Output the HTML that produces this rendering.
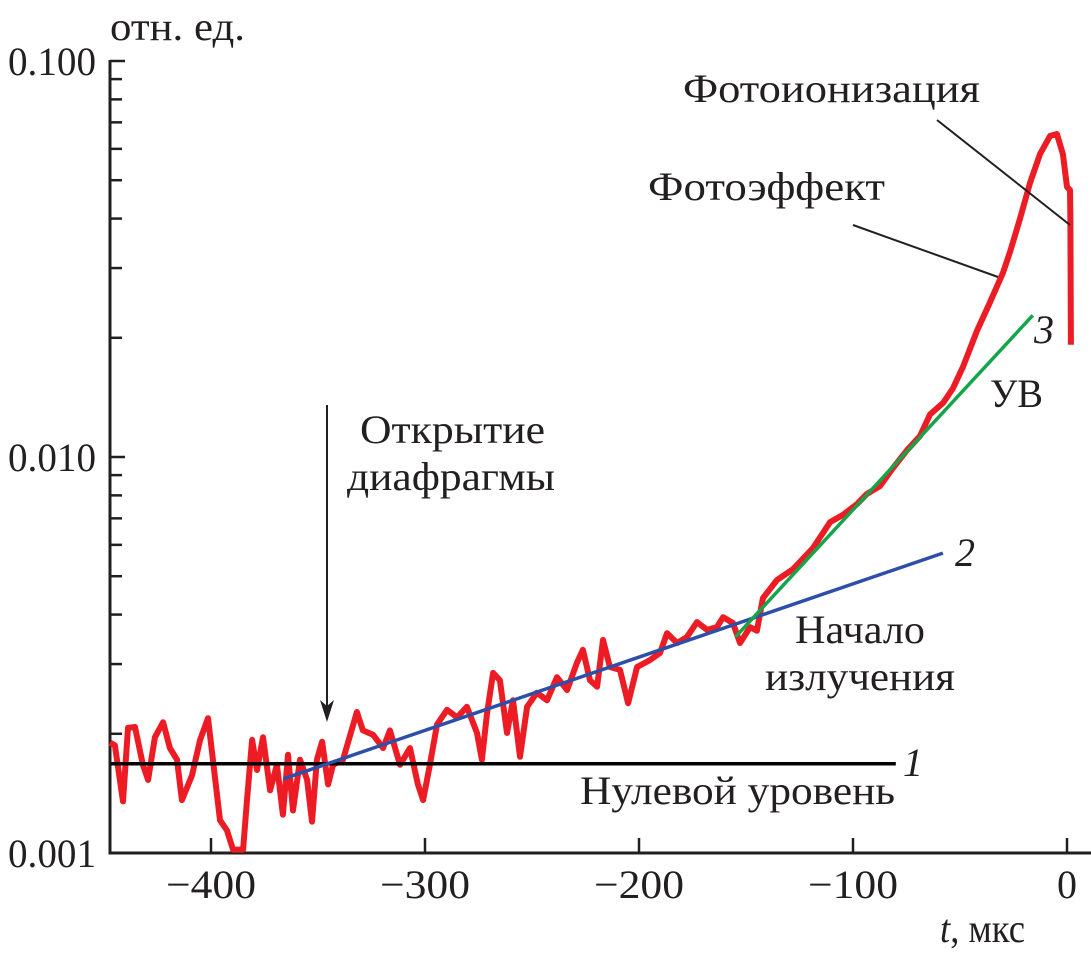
<!DOCTYPE html>
<html><head><meta charset="utf-8"><style>
html,body{margin:0;padding:0;background:#fff;}
text{font-family:"Liberation Serif","Tinos","Times New Roman","DejaVu Serif",serif;}
</style></head><body>
<svg id="chart" width="1091" height="952" viewBox="0 0 1091 952" xmlns="http://www.w3.org/2000/svg"></svg>
<script>
const redT=[-447.2,-444.9,-441.1,-438.8,-435.5,-431.8,-429.4,-426.2,-422.4,-419.2,-415.9,-413.6,-408.9,-405.1,-401.4,-399.1,-395.8,-392.5,-389.7,-385.0,-383.2,-380.8,-378.5,-375.7,-372.4,-369.2,-366.4,-364.0,-361.7,-358.4,-355.1,-352.8,-350.5,-348.1,-345.3,-343.0,-338.3,-331.8,-329.0,-324.3,-319.6,-316.4,-311.7,-307.0,-303.3,-300.9,-297.7,-294.4,-289.7,-285.0,-280.4,-275.7,-273.4,-271.0,-268.2,-265.0,-261.7,-258.9,-255.6,-252.3,-247.7,-243.0,-238.3,-233.6,-229.0,-226.2,-222.9,-219.6,-216.8,-213.6,-208.9,-205.1,-200.9,-194.9,-190.2,-186.9,-182.2,-177.6,-172.9,-168.2,-163.6,-160.7,-156.1,-152.8,-148.1,-144.9,-142.1,-135.5,-128.0,-124.8,-118.7,-110.7,-104.7,-98.1,-93.5,-87.4,-81.3,-74.8,-68.7,-64.0,-57.9,-53.3,-48.6,-42.1,-36.0,-29.9,-26.6,-22.0,-17.3,-12.6,-7.9,-4.7,-1.9,0,1.4,1.6,1.8];
const redV=[1.90,1.87,1.35,2.07,2.08,1.67,1.53,1.96,2.14,1.84,1.72,1.36,1.57,1.93,2.19,1.72,1.21,1.14,1.02,1.02,1.36,1.93,1.62,1.96,1.44,1.67,1.25,1.77,1.28,1.72,1.53,1.20,1.72,1.91,1.49,1.67,1.72,2.27,2.04,1.99,1.84,2.04,1.67,1.84,1.49,1.36,1.67,2.11,2.30,2.20,2.34,2.01,1.72,2.26,2.85,2.73,2.01,2.43,1.75,2.34,2.54,2.43,2.78,2.58,3.02,3.26,2.73,2.63,3.45,2.95,2.90,2.39,2.95,3.07,3.20,3.59,3.39,3.51,3.83,3.66,3.72,3.94,3.81,3.39,3.72,3.64,4.40,4.89,5.21,5.43,5.89,6.85,7.14,7.61,8.07,8.45,9.38,10.4,11.3,12.8,13.7,14.9,16.9,20.8,24.6,29.2,33.0,39.9,49.2,58.2,64.7,65.4,58.2,48.1,47.2,40.0,19.2];
const zeroT=[-447,-80];
const zeroV=[1.68,1.68];
const blueT=[-366,-58];
const blueV=[1.54,5.72];
const greenT=[-155,-16];
const greenV=[3.51,22.8];
const xTicks=[-400,-300,-200,-100,0];
const xTickLabels=["\u2212400","\u2212300","\u2212200","\u2212100","0"];
const yTicks=[1,10,100];
const yTickLabels=["0.001","0.010","0.100"];

const X0=1067,XS=2.14,Y0=853,YD=396;
const xs=t=>X0+t*XS;
const ys=v=>Y0-Math.log10(v)*YD; // v in units of 1e-3
const svg=document.getElementById('chart');
const NS='http://www.w3.org/2000/svg';
function mk(tag,attrs,parent){const e=document.createElementNS(NS,tag);for(const k in attrs)e.setAttribute(k,attrs[k]);(parent||svg).appendChild(e);return e;}
function txt(s,x,y,size,anchor,style,w){const e=mk('text',{x:x,y:y,'font-size':size,'text-anchor':anchor||'start','fill':'#231f20'});if(style)e.setAttribute('font-style',style);if(w){e.setAttribute('textLength',w);e.setAttribute('lengthAdjust','spacingAndGlyphs');}e.textContent=s;return e;}
function path(T,V,color,w,name){
  const d=T.map((t,i)=>(i?'L':'M')+xs(t).toFixed(1)+','+ys(V[i]).toFixed(1)).join('');
  const p=mk('path',{d:d,fill:'none',stroke:color,'stroke-width':w,'stroke-linejoin':'round'});
  
  
  return p;
}
const ax=mk('path',{d:'M110,60V853H1091',fill:'none',stroke:'#231f20','stroke-width':3});


for(let dec=1;dec<100;dec*=10){for(let m=2;m<=9;m++){const y=ys(dec*m);const t=mk('line',{x1:110,x2:122,y1:y,y2:y,stroke:'#231f20','stroke-width':2.5});}}
yTicks.forEach((v,i)=>{const y=ys(v);const t=mk('line',{x1:110,x2:125,y1:y,y2:y,stroke:'#231f20','stroke-width':2.5});
 const l=txt(yTickLabels[i],96,y+14,40,'end',null,88);});
xTicks.forEach((v,i)=>{const x=xs(v);const t=mk('line',{x1:x,x2:x,y1:853,y2:838,stroke:'#231f20','stroke-width':2.5});
 const l=txt(xTickLabels[i],x,898,40,'middle',null,i<4?90:20);});
path(redT,redV,'#ed1c24',6,'red-signal-curve');
path(zeroT,zeroV,'#000',3.5,'zero-level-line-1');
path(blueT,blueV,'#2e4fa8',3.5,'fit-line-2');
path(greenT,greenV,'#14a54a',3.5,'fit-line-3');
const ap=mk('path',{d:'M327,405V712',stroke:'#231f20','stroke-width':2,fill:'none'});
const ah=mk('path',{d:'M320,700L327,722L334,700L327,706Z',fill:'#231f20'});
const l1=mk('line',{x1:937,y1:120,x2:1070,y2:225,stroke:'#231f20','stroke-width':2});
const l2=mk('line',{x1:853,y1:225,x2:998,y2:277,stroke:'#231f20','stroke-width':2});
const labels=[
 ['отн. ед.',110,40,40,'start',null,'y-axis-unit',135],
 ['Фотоионизация',683,102,40,'start',null,'photoionization-label',297],
 ['Фотоэффект',648,200,40,'start',null,'photoeffect-label',237],
 ['3',1034,343,40,'start','italic','line-3-label',0],
 ['УВ',990,407,40,'start',null,'uv-label',53],
 ['2',955,566,40,'start','italic','line-2-label',0],
 ['Начало',795,643,40,'start',null,'emission-start-label-1',130],
 ['излучения',765,690,40,'start',null,'emission-start-label-2',190],
 ['Открытие',360,443,40,'start',null,'aperture-label-1',185],
 ['диафрагмы',347,490,40,'start',null,'aperture-label-2',208],
 ['1',903,776,40,'start','italic','line-1-label',0],
 ['Нулевой уровень',580,804,40,'start',null,'zero-level-label',315]
];
labels.forEach(a=>{const e=txt(a[0],a[1],a[2],a[3],a[4],a[5],a[7]);});
const xt=mk('text',{x:940,y:942,'font-size':40,fill:'#231f20',textLength:85,lengthAdjust:'spacingAndGlyphs'});


xt.innerHTML='<tspan font-style="italic">t</tspan>, мкс';
</script>
</body></html>
